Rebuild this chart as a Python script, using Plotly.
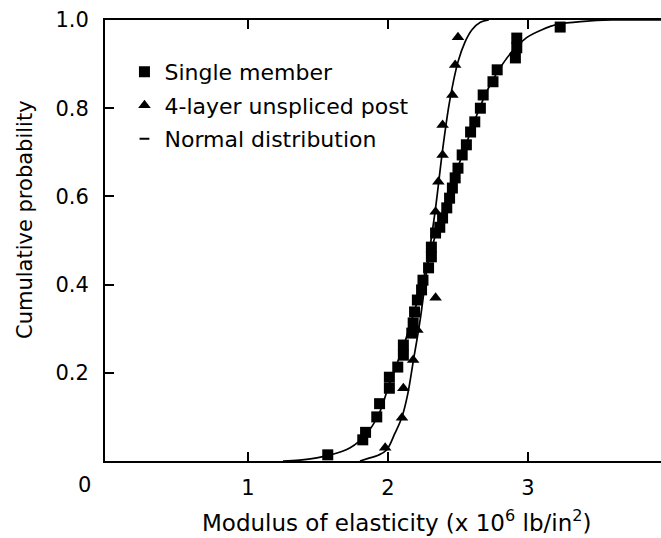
import plotly.graph_objects as go

# ---- data ----
single_x = [1.57, 1.82, 1.84, 1.92, 1.94, 2.01, 2.01, 2.07, 2.11, 2.11, 2.17, 2.18, 2.19,
            2.21, 2.24, 2.25, 2.29, 2.31, 2.31, 2.34, 2.37, 2.39, 2.42, 2.44, 2.46, 2.48,
            2.50, 2.53, 2.56, 2.59, 2.62, 2.66, 2.68, 2.75, 2.78, 2.91, 2.92, 2.92, 3.23]
single_y = [0.014, 0.048, 0.065, 0.100, 0.130, 0.165, 0.190, 0.213, 0.240, 0.263, 0.290, 0.313, 0.338,
            0.365, 0.388, 0.410, 0.438, 0.463, 0.485, 0.517, 0.530, 0.551, 0.574, 0.596, 0.619, 0.642,
            0.664, 0.694, 0.717, 0.746, 0.769, 0.800, 0.830, 0.860, 0.887, 0.914, 0.937, 0.959, 0.984]

post_x = [1.98, 2.10, 2.11, 2.18, 2.21, 2.34, 2.34, 2.36, 2.39, 2.39, 2.46, 2.48, 2.50]
post_y = [0.030, 0.098, 0.165, 0.229, 0.297, 0.370, 0.565, 0.633, 0.694, 0.762, 0.830, 0.898, 0.961]

normal_single_x = [1.25, 1.37, 1.59, 1.73, 1.85, 1.94, 2.01, 2.11, 2.18, 2.25, 2.31, 2.37, 2.46,
                   2.56, 2.66, 2.75, 2.89, 2.99, 3.10, 3.21, 3.40, 3.60, 3.95]
normal_single_y = [0.000, 0.002, 0.014, 0.030, 0.063, 0.110, 0.175, 0.260, 0.330, 0.410, 0.480, 0.545, 0.630,
                   0.720, 0.805, 0.865, 0.930, 0.960, 0.978, 0.990, 0.997, 1.000, 1.000]

normal_post_x = [1.80, 1.87, 1.93, 1.99, 2.05, 2.10, 2.14, 2.18, 2.23, 2.28, 2.34, 2.39, 2.44,
                 2.50, 2.55, 2.60, 2.66, 2.72]
normal_post_y = [0.000, 0.007, 0.013, 0.025, 0.063, 0.100, 0.150, 0.225, 0.320, 0.440, 0.574, 0.705, 0.815,
                 0.905, 0.950, 0.978, 0.995, 1.000]

x_ticks = [1, 2, 3]
y_ticks = [0.2, 0.4, 0.6, 0.8, 1.0]
y_tick_text = ["0.2", "0.4", "0.6", "0.8", "1.0"]
x_title = "Modulus of elasticity (x 10<sup>6</sup> lb/in<sup>2</sup>)"
y_title = "Cumulative probability"

FONT = "DejaVu Sans"
fs = 21

fig = go.Figure()

fig.add_trace(go.Scatter(x=normal_single_x, y=normal_single_y, mode="lines",
                         line=dict(color="black", width=1.7, shape="spline"),
                         showlegend=False, cliponaxis=False))
fig.add_trace(go.Scatter(x=normal_post_x, y=normal_post_y, mode="lines",
                         line=dict(color="black", width=1.7, shape="spline"),
                         showlegend=False, cliponaxis=False))
fig.add_trace(go.Scatter(x=single_x, y=single_y, mode="markers", name="Single member",
                         legendgroup="a",
                         marker=dict(symbol="square", size=11, color="black"),
                         cliponaxis=False))
fig.add_trace(go.Scatter(x=post_x, y=post_y, mode="markers", name="4-layer unspliced post",
                         legendgroup="b",
                         marker=dict(symbol="triangle-up", size=11, color="black"),
                         cliponaxis=False))
fig.add_trace(go.Scatter(x=[None], y=[None], mode="markers", name="Normal distribution",
                         legendgroup="c",
                         marker=dict(symbol="line-ew", size=7, color="black",
                                     line=dict(color="black", width=2))))

fig.update_layout(
    width=661, height=538,
    margin=dict(l=105, r=0, t=20, b=77),
    paper_bgcolor="white", plot_bgcolor="white",
    font=dict(family=FONT, size=fs, color="black"),
    showlegend=True,
    legend=dict(x=0.035, y=0.93, xanchor="left", yanchor="top",
                bgcolor="rgba(0,0,0,0)", font=dict(size=22, family=FONT),
                itemwidth=30, tracegroupgap=2, traceorder="grouped"),
    xaxis=dict(range=[-0.021, 3.95], tickvals=x_ticks, ticktext=[str(v) for v in x_ticks],
               ticks="inside", ticklen=9, tickwidth=1.5, tickcolor="black",
               showline=True, linecolor="black", linewidth=2, mirror="ticks",
               showgrid=False, zeroline=False, ticklabelstandoff=7),
    yaxis=dict(range=[0, 1.0], tickvals=y_ticks, ticktext=y_tick_text,
               ticks="inside", ticklen=9, tickwidth=1.5, tickcolor="black",
               showline=True, linecolor="black", linewidth=2, mirror=False,
               showgrid=False, zeroline=False, ticklabelstandoff=10),
)

# axis titles placed as in the reference (off-centre)
fig.add_annotation(text=x_title, xref="paper", yref="paper", x=(397 - 105) / 556, y=-(521 - 461) / 441,
                   showarrow=False, font=dict(size=23, family=FONT), xanchor="center", yanchor="middle")
fig.add_annotation(text=y_title, xref="paper", yref="paper", x=-(105 - 25) / 556, y=(461 - 220) / 441,
                   textangle=-90, showarrow=False, font=dict(size=fs, family=FONT),
                   xanchor="center", yanchor="middle")

fig.add_annotation(text="0", xref="paper", yref="paper", x=-0.036, y=-0.055,
                   showarrow=False, font=dict(size=fs, family=FONT), xanchor="center", yanchor="middle")
fig.add_annotation(text="4", xref="paper", yref="paper", x=1.012, y=-0.055,
                   showarrow=False, font=dict(size=fs, family=FONT), xanchor="center", yanchor="middle")

fig.write_html("out.html")
